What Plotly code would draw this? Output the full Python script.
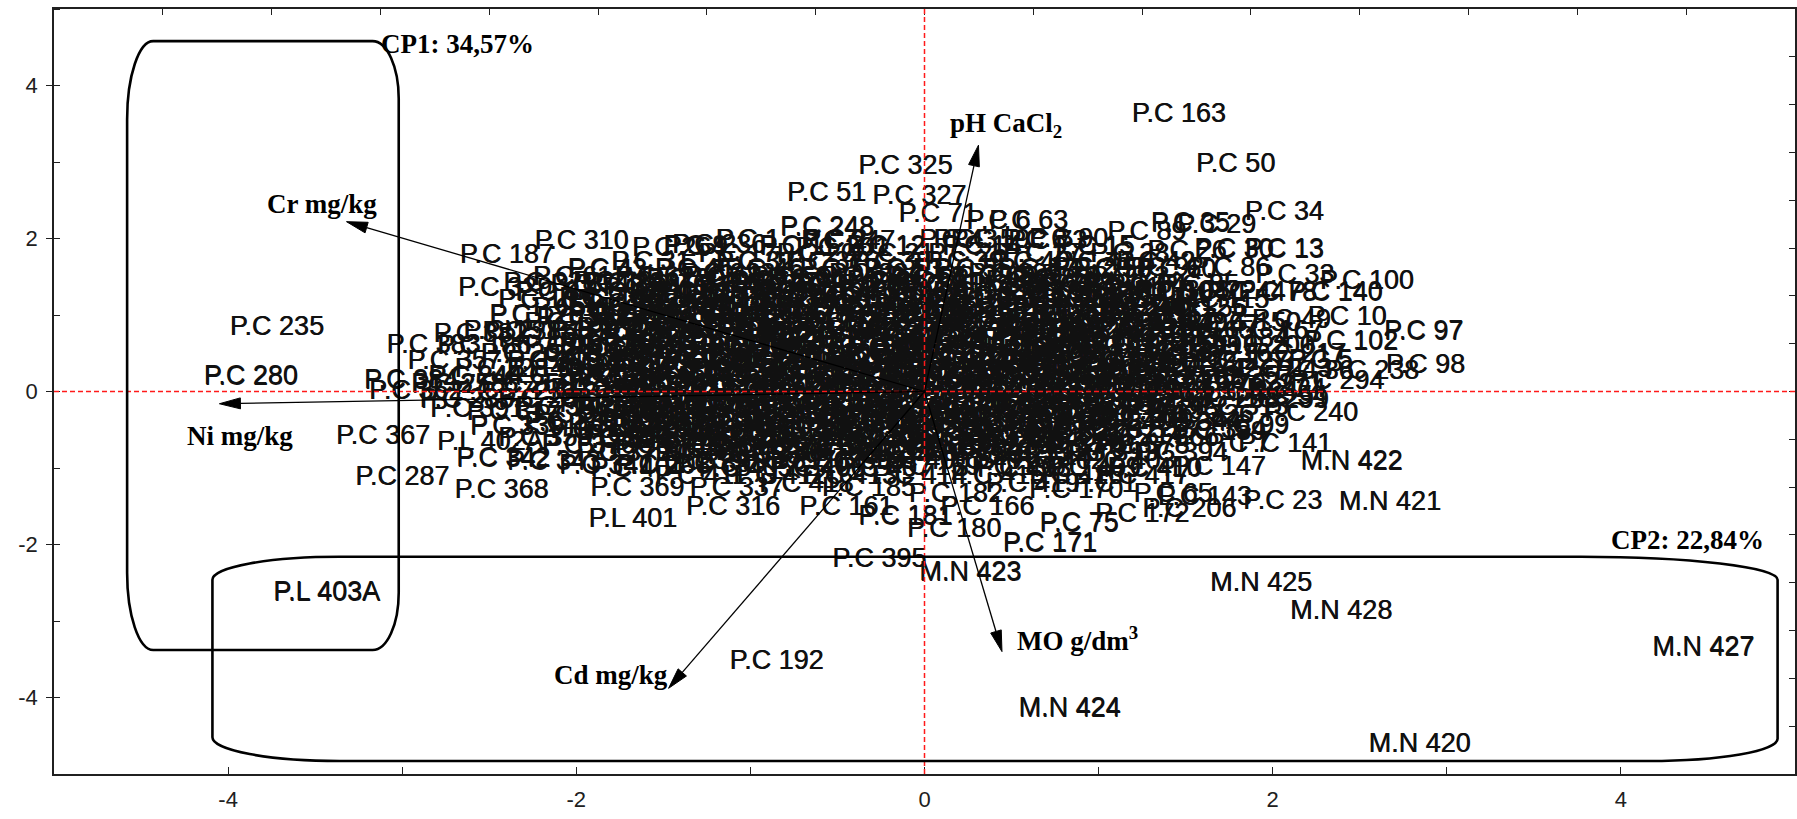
import math
import plotly.graph_objects as go

# ---------------- data ----------------
# outlying / clearly readable sample labels (x = left edge of label, y = label centre)
out_names = ["P.C 163", "P.C 50", "P.C 34", "P.C 325", "P.C 51", "P.C 327", "P.C 71", "P.C 248",
             "P.C 235", "P.C 280", "P.C 192", "P.L 403A", "M.N 425", "M.N 428", "M.N 427",
             "M.N 424", "M.N 420", "M.N 422", "M.N 421", "M.N 423", "P.C 395"]
out_x = [1.19, 1.56, 1.84, -0.38, -0.79, -0.30, -0.15, -0.83,
         -3.99, -4.14, -1.12, -3.74, 1.64, 2.10, 4.18,
         0.54, 2.55, 2.16, 2.38, -0.03, -0.53]
out_y = [3.61, 2.96, 2.33, 2.93, 2.58, 2.54, 2.31, 2.13,
         0.83, 0.18, -3.54, -2.64, -2.52, -2.88, -3.36,
         -4.16, -4.62, -0.93, -1.46, -2.38, -2.20]

left_names = ["P.C 310", "P.C 187", "P.C 329", "P.C 328", "P.C 381", "P.L 404A", "P.C 388", "P.C 385",
              "P.C 382", "P.C 383", "P.C 357", "P.L 405A", "P.C 384", "P.C 362", "P.C 391", "P.C 317",
              "P.C 339", "P.C 367", "P.L 402A", "P.C 342", "P.C 343", "P.C 341", "P.C 287", "P.C 368"]
left_x = [-2.24, -2.67, -2.68, -2.42, -2.02, -1.51, -2.23, -2.54,
          -2.82, -3.09, -2.97, -2.40, -3.22, -3.19, -2.84, -2.63,
          -2.61, -3.38, -2.80, -2.69, -2.40, -2.10, -3.27, -2.70]
left_y = [1.95, 1.77, 1.34, 1.40, 1.42, 1.25, 0.94, 0.76,
          0.74, 0.59, 0.38, 0.29, 0.13, -0.01, -0.24, -0.28,
          -0.47, -0.60, -0.67, -0.89, -0.93, -0.98, -1.13, -1.30]

bottom_names = ["P.C 208", "P.C 398", "P.C 204", "P.C 159", "P.C 156", "P.C 369", "P.C 337", "P.C 316",
                "P.L 401", "P.C 161", "P.C 185", "P.C 181", "P.C 180", "P.C 182", "P.C 166", "P.C 170",
                "P.C 171", "P.C 75", "P.C 172", "P.C 206", "P.C 65", "P.C 143", "P.C 23", "P.C 147"]
bottom_x = [-1.77, -1.45, -0.89, -0.22, 0.27, -1.92, -1.35, -1.37,
            -1.93, -0.72, -0.59, -0.38, -0.10, -0.09, 0.09, 0.60,
            0.45, 0.66, 0.98, 1.25, 1.20, 1.34, 1.83, 1.42]
bottom_y = [-0.98, -0.96, -0.96, -1.00, -1.00, -1.28, -1.28, -1.52,
            -1.68, -1.52, -1.28, -1.65, -1.81, -1.35, -1.52, -1.30,
            -2.00, -1.74, -1.62, -1.55, -1.35, -1.39, -1.45, -1.00]

right_names = ["P.C 141", "P.C 7", "P.C 189", "P.C 99", "P.C 240", "P.C 54", "P.C 24", "P.C 294",
               "P.C 36", "P.C 238", "P.C 98", "P.C 5", "P.C 18", "P.C 19", "P.C 102", "P.C 97",
               "P.C 47", "P.C 49", "P.C 10", "P.C 16", "P.C 56", "P.C 308", "P.C 22", "P.C 44",
               "P.C 78", "P.C 140", "P.C 100", "P.C 33", "P.C 92", "P.C 86", "P.C 13", "P.C 30",
               "P.C 26", "P.C 89", "P.C 35", "P.C 29"]
right_x = [1.80, 1.62, 1.42, 1.64, 1.95, 1.86, 1.85, 2.10,
           2.01, 2.30, 2.65, 2.09, 1.34, 1.46, 2.18, 2.64,
           1.47, 1.88, 2.20, 1.05, 1.40, 1.21, 1.45, 1.62,
           1.80, 2.09, 2.27, 1.90, 1.15, 1.53, 1.84, 1.55,
           1.28, 1.05, 1.30, 1.45]
right_y = [-0.70, -0.70, -0.54, -0.46, -0.30, -0.07, 0.02, 0.12,
           0.25, 0.25, 0.33, 0.39, 0.35, 0.59, 0.64, 0.77,
           0.85, 0.92, 0.96, 1.08, 1.06, 1.30, 1.30, 1.28,
           1.28, 1.28, 1.43, 1.51, 1.60, 1.60, 1.84, 1.84,
           1.82, 2.07, 2.18, 2.16]

top_names = ["P.C 6", "P.C 63", "P.C 90", "P.C 247", "P.C 4", "P.C 59", "P.C 73", "P.C 201",
             "P.C 264", "P.C 236", "P.C 209", "P.C 48", "P.C 303"]
top_x = [0.24, 0.37, 0.60, -0.71, -0.03, 0.15, 0.48, -0.74, -1.68, -1.45, 0.73, 0.73, -1.10]
top_y = [2.21, 2.21, 1.98, 1.95, 1.97, 1.97, 1.95, 1.86, 1.86, 1.90, 1.60, 1.38, 1.38]

# dense central cloud (labels unreadable there): row centre y and label left edges x
core_row_y = [1.97, 1.88, 1.78, 1.68, 1.58, 1.48, 1.38, 1.28, 1.18, 1.08, 0.98, 0.88, 0.78, 0.68,
              0.58, 0.48, 0.38, 0.28, 0.18, 0.08, -0.02, -0.12, -0.22, -0.32, -0.42, -0.52,
              -0.62, -0.72, -0.82, -0.92, -1.02, -1.12, -1.22]
core_row_x = [
    [-1.20, -0.70, 0.05, 0.45],
    [-1.50, -0.95, -0.45, 0.10, 0.75],
    [-1.30, -0.85, -0.40, 0.02, 0.45, 0.95],
    [-1.80, -1.20, -0.80, -0.42, 0.00, 0.38, 0.75, 1.10],
    [-2.05, -1.55, -1.15, -0.72, -0.35, 0.05, 0.42, 0.85, 1.22],
    [-2.25, -1.78, -1.38, -1.00, -0.60, -0.22, 0.18, 0.55, 0.95],
    [-2.15, -1.70, -1.30, -0.90, -0.50, -0.12, 0.25, 0.65, 1.05, 1.35],
    [-2.35, -1.95, -1.55, -1.12, -0.72, -0.32, 0.05, 0.45, 0.85, 1.20],
    [-2.45, -2.05, -1.65, -1.25, -0.85, -0.48, -0.10, 0.28, 0.68, 1.05, 1.45],
    [-2.25, -1.85, -1.45, -1.05, -0.65, -0.28, 0.10, 0.50, 0.88, 1.30],
    [-2.50, -2.05, -1.65, -1.25, -0.88, -0.50, -0.12, 0.25, 0.65, 1.05],
    [-2.30, -1.88, -1.48, -1.08, -0.70, -0.32, 0.05, 0.42, 0.82, 1.20, 1.62],
    [-2.65, -2.15, -1.72, -1.32, -0.92, -0.55, -0.18, 0.20, 0.58, 0.98, 1.35, 1.75],
    [-2.45, -2.00, -1.55, -1.15, -0.75, -0.38, 0.00, 0.38, 0.78, 1.15, 1.55],
    [-2.80, -2.30, -1.85, -1.42, -1.02, -0.62, -0.25, 0.12, 0.50, 0.90, 1.28, 1.70],
    [-2.55, -2.10, -1.65, -1.25, -0.85, -0.45, -0.08, 0.30, 0.68, 1.08, 1.45, 1.88],
    [-2.40, -1.95, -1.50, -1.10, -0.70, -0.30, 0.08, 0.48, 0.88, 1.55],
    [-2.70, -2.20, -1.78, -1.35, -0.95, -0.55, -0.18, 0.20, 0.60, 1.00, 1.38, 1.80],
    [-2.85, -2.40, -1.95, -1.55, -1.15, -0.75, -0.38, 0.00, 0.40, 0.80, 1.20, 1.58],
    [-2.95, -2.55, -2.10, -1.70, -1.30, -0.90, -0.52, -0.15, 0.22, 0.62, 1.02, 1.42, 1.75],
    [-2.70, -2.25, -1.85, -1.45, -1.05, -0.68, -0.30, 0.08, 0.45, 0.85, 1.25, 1.60],
    [-2.90, -2.45, -2.02, -1.62, -1.22, -0.82, -0.45, -0.08, 0.30, 0.70, 1.10, 1.50, 1.78],
    [-2.35, -1.90, -1.50, -1.10, -0.72, -0.35, 0.02, 0.40, 0.80, 1.20, 1.55],
    [-2.25, -1.80, -1.38, -0.98, -0.60, -0.22, 0.15, 0.55, 0.95, 1.35],
    [-2.30, -1.88, -1.45, -1.05, -0.68, -0.30, 0.08, 0.48, 0.88, 1.28],
    [-2.15, -1.72, -1.30, -0.90, -0.52, -0.15, 0.22, 0.62, 1.02, 1.42],
    [-2.45, -2.00, -1.58, -1.18, -0.78, -0.40, -0.02, 0.35, 0.75, 1.15],
    [-2.20, -1.78, -1.35, -0.95, -0.58, -0.20, 0.18, 0.58, 0.98],
    [-2.00, -1.55, -1.12, -0.72, -0.35, 0.02, 0.40, 0.80, 1.20],
    [-1.50, -1.05, -0.65, -0.28, 0.10, 0.50, 0.90],
    [-1.92, -1.30, -0.88, -0.50, 0.30, 0.70, 1.05],
    [-1.55, -1.10, -0.70, -0.30, 0.15, 0.60, 0.98],
    [-0.95, 0.35, 0.85],
]
# extra labels in the blackest part of the cloud
core2_row_y = [1.43, 1.23, 1.03, 0.83, 0.63, 0.43, 0.23, 0.03, -0.17, -0.37, -0.57, -0.77]
core2_row_x = [
    [-1.25, -0.45, 0.35],
    [-1.40, -0.60, 0.15, 0.95],
    [-1.55, -0.95, -0.15, 0.62],
    [-1.25, -0.45, 0.30, 1.00],
    [-1.70, -0.95, -0.10, 0.58],
    [-1.40, -0.55, 0.25, 1.25],
    [-1.20, -0.35, 0.45],
    [-1.55, -0.70, 0.12, 0.95],
    [-1.35, -0.55, 0.25, 1.00],
    [-1.60, -0.75, 0.05, 0.75],
    [-1.40, -0.60, 0.20],
    [-1.00, -0.10, 0.70],
]
core3_row_y = [1.45, 1.34, 1.25, 1.13, 1.02, 0.93, 0.82, 0.73, 0.62, 0.52, 0.42, 0.33,
               0.22, 0.13, 0.02, -0.07, -0.18, -0.27, -0.38, -0.47, -0.58, -0.67, -0.78]
core3_row_x = [
    [-1.60, -0.90, -0.20, 0.50],
    [-1.85, -1.05, -0.35, 0.30, 0.90],
    [-1.70, -0.95, -0.20, 0.55, 1.10],
    [-1.95, -1.35, -0.65, 0.00, 0.72],
    [-2.05, -1.30, -0.45, 0.30, 1.00],
    [-1.75, -1.05, -0.25, 0.48, 1.15],
    [-2.00, -1.40, -0.70, 0.10, 0.80],
    [-1.85, -1.10, -0.35, 0.42, 1.10],
    [-2.10, -1.35, -0.55, 0.25, 0.95],
    [-1.95, -1.15, -0.30, 0.45, 1.20],
    [-2.20, -1.55, -0.85, -0.05, 0.70],
    [-1.90, -1.25, -0.50, 0.30, 1.05],
    [-2.05, -1.40, -0.65, 0.10, 0.85],
    [-1.80, -1.05, -0.25, 0.55, 1.30],
    [-2.15, -1.35, -0.50, 0.35, 1.10],
    [-1.90, -1.15, -0.35, 0.45],
    [-2.10, -1.45, -0.70, 0.10, 0.85],
    [-1.75, -1.00, -0.25, 0.55, 1.15],
    [-2.00, -1.30, -0.50, 0.28, 1.00],
    [-1.80, -1.10, -0.35, 0.45],
    [-1.95, -1.25, -0.45, 0.30, 0.95],
    [-1.65, -0.90, -0.10, 0.60],
    [-1.80, -1.20, -0.45, 0.25],
]
core4_row_y = [1.52, 1.40, 1.30, 1.20, 1.10, 0.98, 0.88, 0.76, 0.66, 0.55, 0.45, 0.35,
               0.25, 0.15, 0.05, -0.05, -0.15, -0.25, -0.35, -0.45, -0.55, -0.65, -0.75, -0.85]
core4_row_x = [
    [-1.40, -0.55, 0.25],
    [-1.95, -1.15, -0.30, 0.55],
    [-1.30, -0.50, 0.35],
    [-2.10, -1.05, -0.25, 0.60],
    [-1.60, -0.85, 0.05, 0.95],
    [-1.90, -1.10, -0.30, 0.55],
    [-1.55, -0.80, 0.15, 1.00],
    [-1.95, -1.20, -0.40, 0.40],
    [-1.70, -0.95, -0.15, 0.70],
    [-2.05, -1.25, -0.45, 0.35],
    [-1.80, -1.00, -0.20, 0.60],
    [-2.10, -1.35, -0.60, 0.15, 0.90],
    [-1.65, -0.90, -0.10, 0.70],
    [-2.00, -1.25, -0.50, 0.30],
    [-1.75, -0.95, -0.15, 0.65],
    [-2.10, -1.30, -0.55, 0.25, 1.00],
    [-1.70, -0.95, -0.20, 0.55],
    [-2.00, -1.25, -0.45, 0.30],
    [-1.65, -0.85, -0.10, 0.65],
    [-2.05, -1.35, -0.60, 0.20],
    [-1.70, -0.95, -0.15, 0.60],
    [-2.00, -1.30, -0.50, 0.25],
    [-1.50, -0.75, 0.00],
    [-1.25, -0.50, 0.20],
]

# variable vectors (loadings) : arrow tip and bold label centre
var_labels = ["<b>Cr mg/kg</b>", "<b>Ni mg/kg</b>", "<b>pH CaCl<sub>2</sub></b>",
              "<b>MO g/dm<sup>3</sup></b>", "<b>Cd mg/kg</b>"]
var_tip_x = [-3.32, -4.05, 0.31, 0.445, -1.47]
var_tip_y = [2.22, -0.16, 3.22, -3.40, -3.88]
var_lab_x = [-3.46, -3.93, 0.47, 0.88, -1.80]
var_lab_y = [2.45, -0.58, 3.49, -3.24, -3.70]

group_labels = ["<b>CP1: 34,57%</b>", "<b>CP2: 22,84%</b>"]
group_lab_x = [-2.68, 4.38]
group_lab_y = [4.54, -1.94]

tick_vals = [-4, -2, 0, 2, 4]
tick_text = ["-4", "-2", "0", "2", "4"]

# ---------------- assemble labels ----------------
names = out_names + left_names + bottom_names + right_names + top_names
xs = out_x + left_x + bottom_x + right_x + top_x
ys = out_y + left_y + bottom_y + right_y + top_y

used = set()
for n in names:
    if n.startswith("P.C "):
        used.add(int(n.split()[1]))
id_pool = [i for i in range(1, 420) if i not in used]
cn, cx, cy = [], [], []
k = 0
for rows_y, rows_x in ((core_row_y, core_row_x), (core2_row_y, core2_row_x),
                       (core3_row_y, core3_row_x), (core4_row_y, core4_row_x)):
    for ry, rxs in zip(rows_y, rows_x):
        for rx in rxs:
            cn.append("P.C %d" % id_pool[k % len(id_pool)])
            k += 1
            cx.append(rx)
            cy.append(ry)

# ---------------- figure ----------------
W, H = 1797, 819
ML, MR, MT, MB = 54, 2, 9, 45
XR, YR = [-5, 5], [-5, 5]
SX = (W - ML - MR) / (XR[1] - XR[0])
SY = (H - MT - MB) / (YR[1] - YR[0])

SANS = "Liberation Sans, Arial, sans-serif"
fig = go.Figure()
fig.add_trace(go.Scatter(
    x=cx, y=cy, text=cn, mode="text", textposition="middle right",
    textfont=dict(family=SANS, size=27, color="#111111",
                  shadow="0.8px 0.4px 0px #111111"),
    hoverinfo="skip", showlegend=False, cliponaxis=False))
fig.add_trace(go.Scatter(
    x=xs, y=ys, text=names, mode="text", textposition="middle right",
    textfont=dict(family=SANS, size=27, color="#111111",
                  shadow="0.5px 0.3px 0px #111111"),
    hoverinfo="skip", showlegend=False, cliponaxis=False))
fig.add_trace(go.Scatter(x=[0], y=[0], xaxis="x2", yaxis="y2", mode="markers",
                         marker=dict(opacity=0, size=1), hoverinfo="skip", showlegend=False))

shapes = []
RED = dict(color="#ff1a1a", width=1.5, dash="5px,3px")
shapes.append(dict(type="line", xref="x", yref="y", x0=0, x1=0, y0=YR[0], y1=YR[1], line=RED))
shapes.append(dict(type="line", xref="x", yref="y", x0=XR[0], x1=XR[1], y0=0, y1=0, line=RED))

KAP = 0.5523


def rounded_box(L, R, T, B, tl, tr, br, bl):
    c = 1 - KAP
    p = []
    p.append("M%.4f,%.4f" % (L + tl[0], T))
    p.append("L%.4f,%.4f" % (R - tr[0], T))
    p.append("C%.4f,%.4f %.4f,%.4f %.4f,%.4f" % (R - tr[0] * c, T, R, T - tr[1] * c, R, T - tr[1]))
    p.append("L%.4f,%.4f" % (R, B + br[1]))
    p.append("C%.4f,%.4f %.4f,%.4f %.4f,%.4f" % (R, B + br[1] * c, R - br[0] * c, B, R - br[0], B))
    p.append("L%.4f,%.4f" % (L + bl[0], B))
    p.append("C%.4f,%.4f %.4f,%.4f %.4f,%.4f" % (L + bl[0] * c, B, L, B + bl[1] * c, L, B + bl[1]))
    p.append("L%.4f,%.4f" % (L, T - tl[1]))
    p.append("C%.4f,%.4f %.4f,%.4f %.4f,%.4f" % (L, T - tl[1] * c, L + tl[0] * c, T, L + tl[0], T))
    p.append("Z")
    return " ".join(p)


BOX = dict(color="black", width=2.6)
shapes.append(dict(type="path", xref="x", yref="y", line=BOX,
                   path=rounded_box(-4.58, -3.02, 4.58, -3.38,
                                    (0.15, 1.02), (0.15, 0.75), (0.15, 0.75), (0.15, 1.01))))
shapes.append(dict(type="path", xref="x", yref="y", line=BOX,
                   path=rounded_box(-4.09, 4.90, -2.16, -4.83,
                                    (0.73, 0.30), (1.13, 0.30), (0.74, 0.29), (0.73, 0.31))))

# arrows
HL, HW = 21.0, 5.5
for tx, ty in zip(var_tip_x, var_tip_y):
    px, py = tx * SX, ty * SY
    n = math.hypot(px, py)
    ux, uy = px / n, py / n
    bx, by = px - ux * HL, py - uy * HL
    vx, vy = -uy, ux
    p1 = ((bx + vx * HW) / SX, (by + vy * HW) / SY)
    p2 = ((bx - vx * HW) / SX, (by - vy * HW) / SY)
    shapes.append(dict(type="line", xref="x", yref="y", x0=0, y0=0, x1=bx / SX, y1=by / SY,
                       line=dict(color="black", width=1.3)))
    shapes.append(dict(type="path", xref="x", yref="y", fillcolor="black",
                       line=dict(color="black", width=1),
                       path="M%.4f,%.4f L%.4f,%.4f L%.4f,%.4f Z" % (tx, ty, p1[0], p1[1], p2[0], p2[1])))

annotations = []
SERIF = dict(family="Liberation Serif, Times New Roman, serif", size=27, color="black")
for t, ax_, ay_ in zip(var_labels + group_labels, var_lab_x + group_lab_x, var_lab_y + group_lab_y):
    annotations.append(dict(x=ax_, y=ay_, xref="x", yref="y", text=t, showarrow=False,
                            font=SERIF, xanchor="center", yanchor="middle"))

TICKF = dict(family=SANS, size=22, color="#202020")
AX = dict(showgrid=False, zeroline=False, automargin=False, showline=True,
          linecolor="#202020", linewidth=1.5, tickcolor="#202020")
fig.update_layout(
    width=W, height=H, margin=dict(l=ML, r=MR, t=MT, b=MB, autoexpand=False),
    paper_bgcolor="white", plot_bgcolor="white",
    shapes=shapes, annotations=annotations, showlegend=False,
    xaxis=dict(range=XR, tickmode="array", tickvals=tick_vals, ticktext=tick_text,
               ticks="inside", ticklen=7, tickfont=TICKF, ticklabelstandoff=5,
               minor=dict(dtick=1, tick0=0, ticks="inside", ticklen=7, tickcolor="#202020"), **AX),
    yaxis=dict(range=YR, tickmode="array", tickvals=tick_vals, ticktext=tick_text,
               ticks="outside", ticklen=6, tickfont=TICKF, ticklabelstandoff=4,
               minor=dict(dtick=1, tick0=0, ticks="inside", ticklen=6, tickcolor="#202020"), **AX),
    xaxis2=dict(range=XR, overlaying="x", side="top", tick0=0, dtick=0.625, ticks="inside",
                ticklen=6, showticklabels=False, **AX),
    yaxis2=dict(range=YR, overlaying="y", side="right", tick0=0, dtick=0.625, ticks="inside",
                ticklen=6, showticklabels=False, **AX),
)

fig.write_html("out.html", config={"displayModeBar": False},
               post_script="document.body.style.margin='0px';")
